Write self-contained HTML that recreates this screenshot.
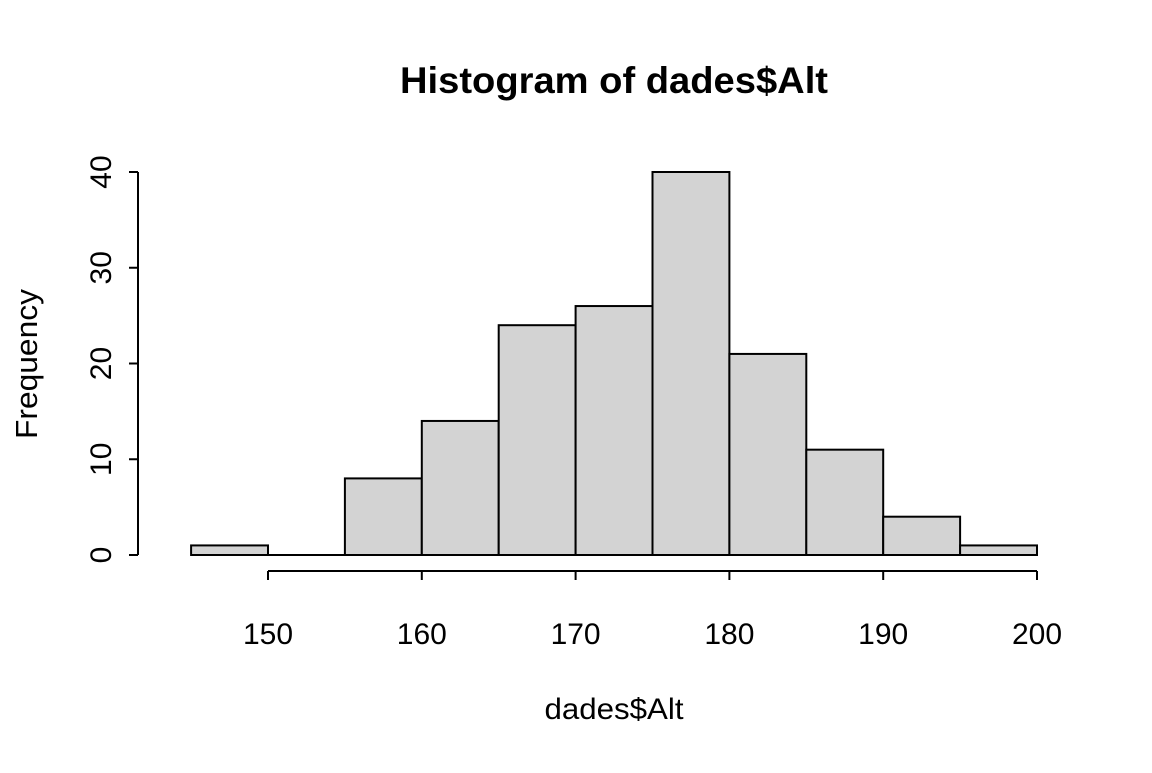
<!DOCTYPE html>
<html><head><meta charset="utf-8"><style>
body{margin:0;background:#fff}
svg text{font-family:"Liberation Sans",Arial,sans-serif;fill:#000}
</style></head><body>
<svg width="1152" height="768" viewBox="0 0 1152 768">
<text x="614" y="93" font-size="37" font-weight="bold" text-anchor="middle" textLength="428" lengthAdjust="spacingAndGlyphs">Histogram of dades$Alt</text>
<text x="614" y="719" font-size="30" text-anchor="middle" textLength="139" lengthAdjust="spacingAndGlyphs">dades$Alt</text>
<text transform="translate(37,364) rotate(-90)" font-size="31" text-anchor="middle" textLength="150" lengthAdjust="spacingAndGlyphs">Frequency</text>
<g id="bars"></g>
<g id="xaxis"></g>
<g id="yaxis"></g>
</svg>
<script>
const breaks=[145,150,155,160,165,170,175,180,185,190,195,200];
const counts=[1,0,8,14,24,26,40,21,11,4,1];
const xTicks=[150,160,170,180,190,200];
const yTicks=[0,10,20,30,40];
const NS="http://www.w3.org/2000/svg";
const X=v=>268+(v-150)*(1037-268)/50;
const Y=v=>555-v*(555-172)/40;
function mk(t,a,p){const e=document.createElementNS(NS,t);for(const k in a)e.setAttribute(k,a[k]);p.appendChild(e);return e;}
const bars=document.getElementById('bars');
counts.forEach((c,i)=>{
 let r;
 if(c===0){
  r=mk('line',{x1:X(breaks[i]),x2:X(breaks[i+1]),y1:Y(0),y2:Y(0),stroke:'#000','stroke-width':2},bars);
 }else{
  r=mk('rect',{x:X(breaks[i]),y:Y(c),width:X(breaks[i+1])-X(breaks[i]),height:Y(0)-Y(c),fill:'#d3d3d3',stroke:'#000','stroke-width':2},bars);
 }
 
 
});
const xa=document.getElementById('xaxis');
mk('line',{x1:X(xTicks[0]),x2:X(xTicks[xTicks.length-1]),y1:571,y2:571,stroke:'#000','stroke-width':2},xa);
xTicks.forEach(t=>{
 mk('line',{x1:X(t),x2:X(t),y1:571,y2:580,stroke:'#000','stroke-width':2},xa);
 const tx=mk('text',{x:X(t),y:644,'font-size':30,'text-anchor':'middle'},xa);tx.textContent=t;
 
 
});
const ya=document.getElementById('yaxis');
mk('line',{x1:138,x2:138,y1:Y(yTicks[0]),y2:Y(yTicks[yTicks.length-1]),stroke:'#000','stroke-width':2},ya);
yTicks.forEach(t=>{
 mk('line',{x1:129,x2:138,y1:Y(t),y2:Y(t),stroke:'#000','stroke-width':2},ya);
 const tx=mk('text',{transform:`translate(111,${Y(t)}) rotate(-90)`,'font-size':30,'text-anchor':'middle'},ya);tx.textContent=t;
 
 
});
</script>
</body></html>
